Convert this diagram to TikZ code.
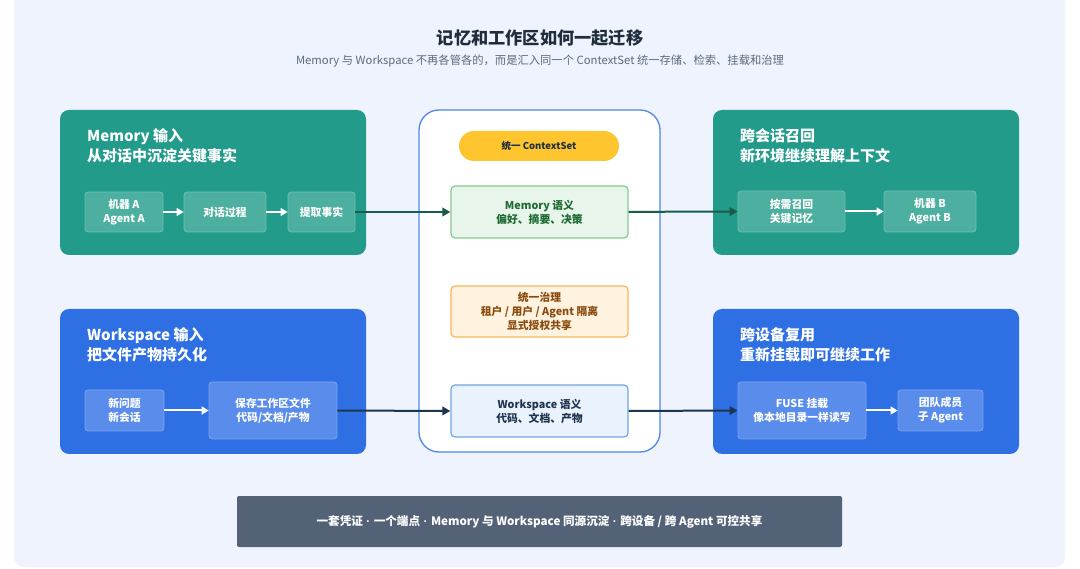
\documentclass[tikz,border=0pt]{standalone}
\usepackage{fontspec}
\setmainfont{Noto Sans CJK SC}
\newfontfamily\latinf{Liberation Sans}
\newcommand{\sepdot}{\hspace{0.3em}{\latinf ·}\hspace{0.3em}}
\usetikzlibrary{arrows.meta}
\definecolor{bgpanel}{HTML}{EEF3FE}
\definecolor{teal}{HTML}{229B8A}
\definecolor{tealin}{HTML}{4DAF9F}
\definecolor{tealbd}{HTML}{6CC0B2}
\definecolor{blu}{HTML}{2E6FE3}
\definecolor{bluin}{HTML}{5A8CEC}
\definecolor{blubd}{HTML}{7AA3F0}
\definecolor{titlec}{HTML}{1F2D3D}
\definecolor{subc}{HTML}{5B6B7C}
\definecolor{cbord}{HTML}{4F88EA}
\definecolor{pill}{HTML}{FEC52E}
\definecolor{memfill}{HTML}{E8F5EA}
\definecolor{membd}{HTML}{86C98C}
\definecolor{memtx}{HTML}{1E6B33}
\definecolor{govfill}{HTML}{FFF3E0}
\definecolor{govbd}{HTML}{F9B65A}
\definecolor{govtx}{HTML}{8A4B0F}
\definecolor{wsfill}{HTML}{E9F2FD}
\definecolor{wsbd}{HTML}{72A6E2}
\definecolor{wstx}{HTML}{1F3550}
\definecolor{arrg}{HTML}{1A5C4C}
\definecolor{arrb}{HTML}{1E3550}
\definecolor{barc}{HTML}{536276}
\tikzset{
  panel/.style={rounded corners=9pt, draw=none},
  ptitle/.style={anchor=north west, text=white, font=\bfseries\fontsize{15}{20}\selectfont, align=left, inner sep=0pt},
  tin/.style={rounded corners=3pt, fill=tealin, draw=tealbd, line width=0.8pt, text=white, font=\bfseries\fontsize{10.8}{14}\selectfont, align=center},
  bin/.style={rounded corners=3pt, fill=bluin, draw=blubd, line width=0.8pt, text=white, font=\bfseries\fontsize{10.8}{14}\selectfont, align=center},
  cbox/.style={rounded corners=4pt, line width=1.2pt, font=\bfseries\fontsize{10.8}{14}\selectfont, align=center},
  warr/.style={draw=white, line width=2pt, -{Triangle[length=7pt,width=8pt]}},
  garr/.style={draw=arrg, line width=2pt, -{Triangle[length=8pt,width=8.5pt]}},
  barr/.style={draw=arrb, line width=2pt, -{Triangle[length=8pt,width=8.5pt]}},
}
\begin{document}
\begin{tikzpicture}[x=1pt,y=-1pt]
\useasboundingbox (0,0) rectangle (1080,569);
\fill[white] (0,0) rectangle (1080,569);
\fill[bgpanel, rounded corners=10pt] (14,-10) rectangle (1065,567);
% title
\node[text=titlec, font=\bfseries\fontsize{17.2}{22}\selectfont] (title) at (540,38) {记忆和工作区如何一起迁移};
\node[text=subc, font=\fontsize{11.3}{14}\selectfont] (sub) at (540,61) {Memory 与 Workspace 不再各管各的，而是汇入同一个 ContextSet 统一存储、检索、挂载和治理};
% left top panel
\fill[panel, teal] (60,110) rectangle (366,255);
\node[ptitle] (lt) at (87,128.5) {Memory 输入\\从对话中沉淀关键事实};
\node[tin, minimum width=78pt, minimum height=40pt] (ma) at (124,212) {机器 A\\Agent A};
\node[tin, minimum width=82pt, minimum height=40pt] (dh) at (225,212) {对话过程};
\node[tin, minimum width=67pt, minimum height=40pt] (tq) at (321.5,212) {提取事实};
\draw[warr] (ma) -- (dh);
\draw[warr] (dh) -- (tq);
% left bottom panel
\fill[panel, blu] (60,309) rectangle (366,454);
\node[ptitle] (lb) at (87,327.5) {Workspace 输入\\把文件产物持久化};
\node[bin, minimum width=79pt, minimum height=41pt] (xw) at (124.5,410.5) {新问题\\新会话};
\node[bin, minimum width=128pt, minimum height=57pt] (bc) at (273,410.5) {保存工作区文件\\代码/文档/产物};
\draw[warr] (xw) -- (bc);
% center panel
\draw[cbord, fill=white, line width=1.3pt, rounded corners=20pt] (419,110) rectangle (660,452);
\node[fill=pill, rounded corners=15pt, minimum width=160pt, minimum height=30pt, text=titlec, font=\bfseries\fontsize{9.5}{12}\selectfont] (cs) at (539,146) {统一 ContextSet};
\node[cbox, fill=memfill, draw=membd, text=memtx, minimum width=177pt, minimum height=52pt] (ms) at (539.5,212) {Memory 语义\\偏好、摘要、决策};
\node[cbox, fill=govfill, draw=govbd, text=govtx, minimum width=177pt, minimum height=51pt] (gv) at (539.5,311.5) {统一治理\\租户 / 用户 / Agent 隔离\\显式授权共享};
\node[cbox, fill=wsfill, draw=wsbd, text=wstx, minimum width=177pt, minimum height=52pt] (ws) at (539.5,411) {Workspace 语义\\代码、文档、产物};
% right top
\fill[panel, teal] (713,110) rectangle (1019,255);
\node[ptitle] (rt) at (740,128.5) {跨会话召回\\新环境继续理解上下文};
\node[tin, minimum width=107pt, minimum height=41pt] (ax) at (791.5,211.5) {按需召回\\关键记忆};
\node[tin, minimum width=92pt, minimum height=41pt] (mb) at (930,211.5) {机器 B\\Agent B};
\draw[warr] (ax) -- (mb);
% right bottom
\fill[panel, blu] (713,309) rectangle (1019,454);
\node[ptitle] (rb) at (740,327.5) {跨设备复用\\重新挂载即可继续工作};
\node[bin, minimum width=128pt, minimum height=57pt] (fu) at (802,410.5) {FUSE 挂载\\像本地目录一样读写};
\node[bin, minimum width=85pt, minimum height=41pt] (td) at (940.5,410.5) {团队成员\\子 Agent};
\draw[warr] (fu) -- (td);
% connectors
\draw[garr] (tq) -- (ms);
\draw[garr] (ms) -- (ax);
\draw[barr] (bc.east) -- (ws.west);
\draw[barr] (ws.east) -- (fu.west);
% bottom bar
\node[fill=barc, rounded corners=2pt, minimum width=605pt, minimum height=51pt, text=white, font=\bfseries\fontsize{11.6}{14}\selectfont] (bar) at (539.5,521.5) {一套凭证\sepdot 一个端点\sepdot Memory 与 Workspace 同源沉淀\sepdot 跨设备 / 跨 Agent 可控共享};
\end{tikzpicture}
\end{document}
